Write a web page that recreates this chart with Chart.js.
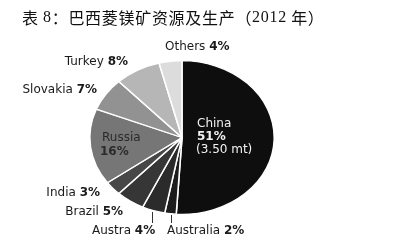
<!DOCTYPE html>
<html>
<head>
<meta charset="utf-8">
<script src="https://cdn.jsdelivr.net/npm/chart.js@4"></script>
<style>
html,body{margin:0;padding:0;background:#fff;}
canvas{display:block;}
</style>
</head>
<body>
<canvas id="c" width="399" height="243"></canvas>
<script>
const categories = ['China', 'Australia', 'Austra', 'Brazil', 'India', 'Russia', 'Slovakia', 'Turkey', 'Others'];
const shares = [51, 2, 4, 5, 3, 16, 7, 8, 4];
const chinaTonnage = '(3.50 mt)';

const sliceColors = ['#0e0e0e', '#1c1c1c', '#2b2b2b', '#363636', '#474747', '#767676', '#929292', '#b6b6b6', '#dcdcdc'];

// label layout: [x, y, align]
const labelLayout = {
  Others:    [165, 47, 'left'],
  Turkey:    [128, 62, 'right'],
  Slovakia:  [97, 90, 'right'],
  India:     [100, 193, 'right'],
  Brazil:    [123, 212, 'right'],
  Austra:    [92, 231, 'left'],
  Australia: [167, 231, 'left']
};

const FONT = '"DejaVu Sans", sans-serif';
const SX = 1.2;

const ellipsePlugin = {
  id: 'ellipse',
  beforeDatasetsDraw(chart) {
    const m = chart.getDatasetMeta(0).data[0];
    const ctx = chart.ctx;
    ctx.save();
    ctx.translate(m.x, m.y);
    ctx.scale(SX, 1);
    ctx.translate(-m.x, -m.y);
  },
  afterDatasetsDraw(chart) {
    chart.ctx.restore();
  }
};

function drawSegs(ctx, segs, x, y, align) {
  let total = 0;
  segs.forEach(s => { ctx.font = s[1]; total += ctx.measureText(s[0]).width; });
  let cx = align === 'right' ? x - total : x;
  ctx.textAlign = 'left';
  segs.forEach(s => { ctx.font = s[1]; ctx.fillText(s[0], cx, y); cx += ctx.measureText(s[0]).width; });
}

const labelPlugin = {
  id: 'labels',
  afterDraw(chart) {
    const ctx = chart.ctx;
    ctx.save();
    ctx.textBaseline = 'middle';
    // title
    ctx.fillStyle = '#111';
    ctx.letterSpacing = '0.7px';
    const cjk = '16px "Noto Sans CJK SC", sans-serif';
    const ser = '16px "Liberation Serif", serif';
    drawSegs(ctx, [['表 ', cjk], ['8', ser], ['：巴西菱镁矿资源及生产（', cjk], ['2012', ser], [' 年）', cjk]], 22, 18, 'left');
    ctx.letterSpacing = '0px';

    const norm = '12px ' + FONT;
    const bold = 'bold 12px ' + FONT;
    categories.forEach((name, i) => {
      const pct = shares[i] + '%';
      if (labelLayout[name]) {
        const [x, y, al] = labelLayout[name];
        ctx.fillStyle = '#1a1a1a';
        drawSegs(ctx, [[name + ' ', norm], [pct, bold]], x, y, al);
      }
    });
    // leader lines for the two small bottom slices
    ctx.strokeStyle = '#333';
    ctx.lineWidth = 1;
    [[152, 212], [171, 215]].forEach(l => {
      ctx.beginPath();
      ctx.moveTo(l[0] + 0.5, l[1]);
      ctx.lineTo(l[0] + 0.5, 223);
      ctx.stroke();
    });
    // Russia inside
    ctx.fillStyle = '#2a2a2a';
    ctx.font = norm;
    ctx.fillText(categories[5], 102, 138);
    ctx.font = bold;
    ctx.fillText(shares[5] + '%', 100, 152);
    // China inside
    ctx.fillStyle = '#f2f2f2';
    ctx.font = norm;
    ctx.fillText(categories[0], 197, 124);
    ctx.font = bold;
    ctx.fillText(shares[0] + '%', 197, 137);
    ctx.font = norm;
    ctx.fillText(chinaTonnage, 196, 150);
    ctx.restore();
  }
};

new Chart(document.getElementById('c'), {
  type: 'pie',
  data: {
    labels: categories,
    datasets: [{
      data: shares,
      backgroundColor: sliceColors,
      borderColor: '#ffffff',
      borderWidth: 1.3
    }]
  },
  options: {
    responsive: false,
    animation: false,
    events: [],
    layout: { padding: { top: 60, bottom: 28, left: 104.5, right: 139.5 } },
    plugins: {
      legend: { display: false },
      tooltip: { enabled: false },
      title: { display: false }
    }
  },
  plugins: [ellipsePlugin, labelPlugin]
});
</script>
</body>
</html>
